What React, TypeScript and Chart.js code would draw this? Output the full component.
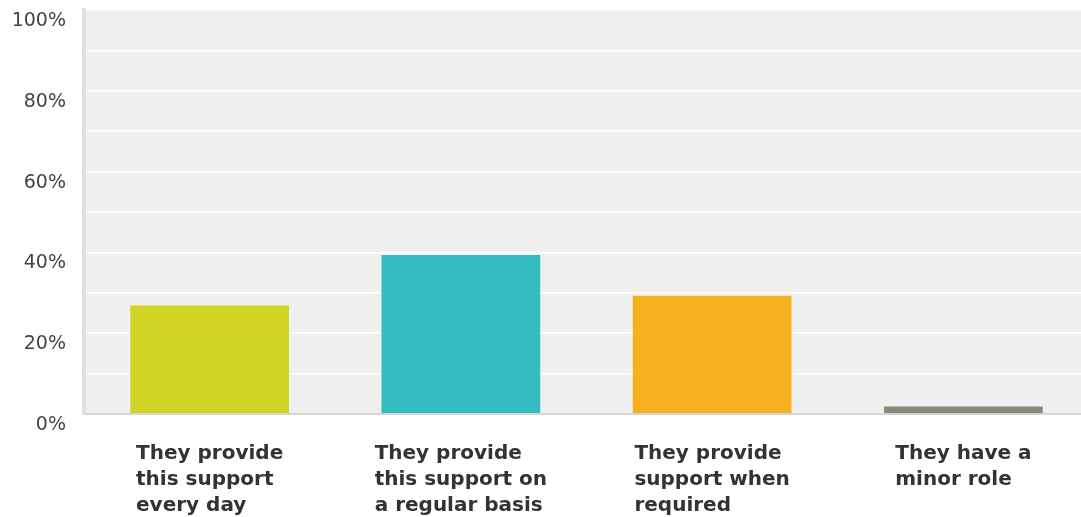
import React, { useEffect, useRef } from "react";
import { Chart, registerables } from "chart.js";

Chart.register(...registerables);

const categories: string[][] = [
  ["They provide", "this support", "every day"],
  ["They provide", "this support on", "a regular basis"],
  ["They provide", "support when", "required"],
  ["They have a", "minor role"],
];
const values: number[] = [27.1, 39.6, 29.5, 2.1];
const barColors: string[] = ["#CFD427", "#33BDC0", "#F6B020", "#878A78"];
const yTickLabels: Record<number, string> = { 0: "0%", 20: "20%", 40: "40%", 60: "60%", 80: "80%", 100: "100%" };

const bgPlugin = {
  id: "plotBg",
  beforeDraw(chart: any) {
    const { ctx, chartArea } = chart;
    ctx.save();
    ctx.fillStyle = "#efefef";
    ctx.fillRect(chartArea.left, chartArea.top, chartArea.right - chartArea.left, chartArea.bottom - chartArea.top);
    ctx.restore();
  },
};

const xLabelPlugin = {
  id: "xLabels",
  afterDraw(chart: any) {
    const { ctx, chartArea } = chart;
    const xScale = chart.scales.x;
    ctx.save();
    ctx.font = "bold 20px 'DejaVu Sans'";
    ctx.fillStyle = "#333333";
    ctx.textAlign = "left";
    ctx.textBaseline = "alphabetic";
    categories.forEach((lines, i) => {
      const cx = xScale.getPixelForValue(i);
      const maxW = Math.max(...lines.map((l) => ctx.measureText(l).width));
      const x0 = cx - maxW / 2;
      lines.forEach((line, j) => {
        ctx.fillText(line, x0, chartArea.bottom + 45 + j * 26);
      });
    });
    ctx.restore();
  },
};

export default function App() {
  const ref = useRef<HTMLCanvasElement | null>(null);
  useEffect(() => {
    if (!ref.current) return;
    const chart = new Chart(ref.current, {
      type: "bar",
      data: {
        labels: categories.map((c) => c.join(" ")),
        datasets: [
          {
            data: values,
            backgroundColor: barColors,
            borderColor: "rgba(255,255,255,0.35)",
            borderWidth: 1,
            barPercentage: 0.64,
            categoryPercentage: 1,
          },
        ],
      },
      options: {
        animation: false,
        responsive: false,
        maintainAspectRatio: false,
        layout: { padding: { top: 10, bottom: 0, left: 0, right: 0 } },
        plugins: { legend: { display: false }, tooltip: { enabled: false } },
        scales: {
          x: {
            grid: { display: false, drawTicks: false },
            border: { display: true, color: "#d6d6d6", width: 2 },
            ticks: { display: false },
            afterFit(scale: any) {
              scale.height = 103;
            },
          },
          y: {
            min: 0,
            max: 100,
            grid: { color: "#ffffff", lineWidth: 1.5, drawTicks: false },
            border: { display: true, color: "#e0e0e0", width: 4 },
            ticks: {
              stepSize: 10,
              padding: 18,
              labelOffset: 11,
              color: "#444444",
              font: { family: "'DejaVu Sans'", size: 19 },
              callback: (v: any) => yTickLabels[v as number] ?? "",
            },
            afterFit(scale: any) {
              scale.width = 84;
              scale.paddingTop = 0;
              scale.paddingBottom = 0;
            },
          },
        },
      },
      plugins: [bgPlugin, xLabelPlugin],
    });
    return () => chart.destroy();
  }, []);
  return (
    <div style={{ position: "fixed", left: 0, top: 0, width: 1089, height: 517, background: "#ffffff" }}>
      <canvas ref={ref} width={1089} height={517} style={{ display: "block" }} />
    </div>
  );
}
